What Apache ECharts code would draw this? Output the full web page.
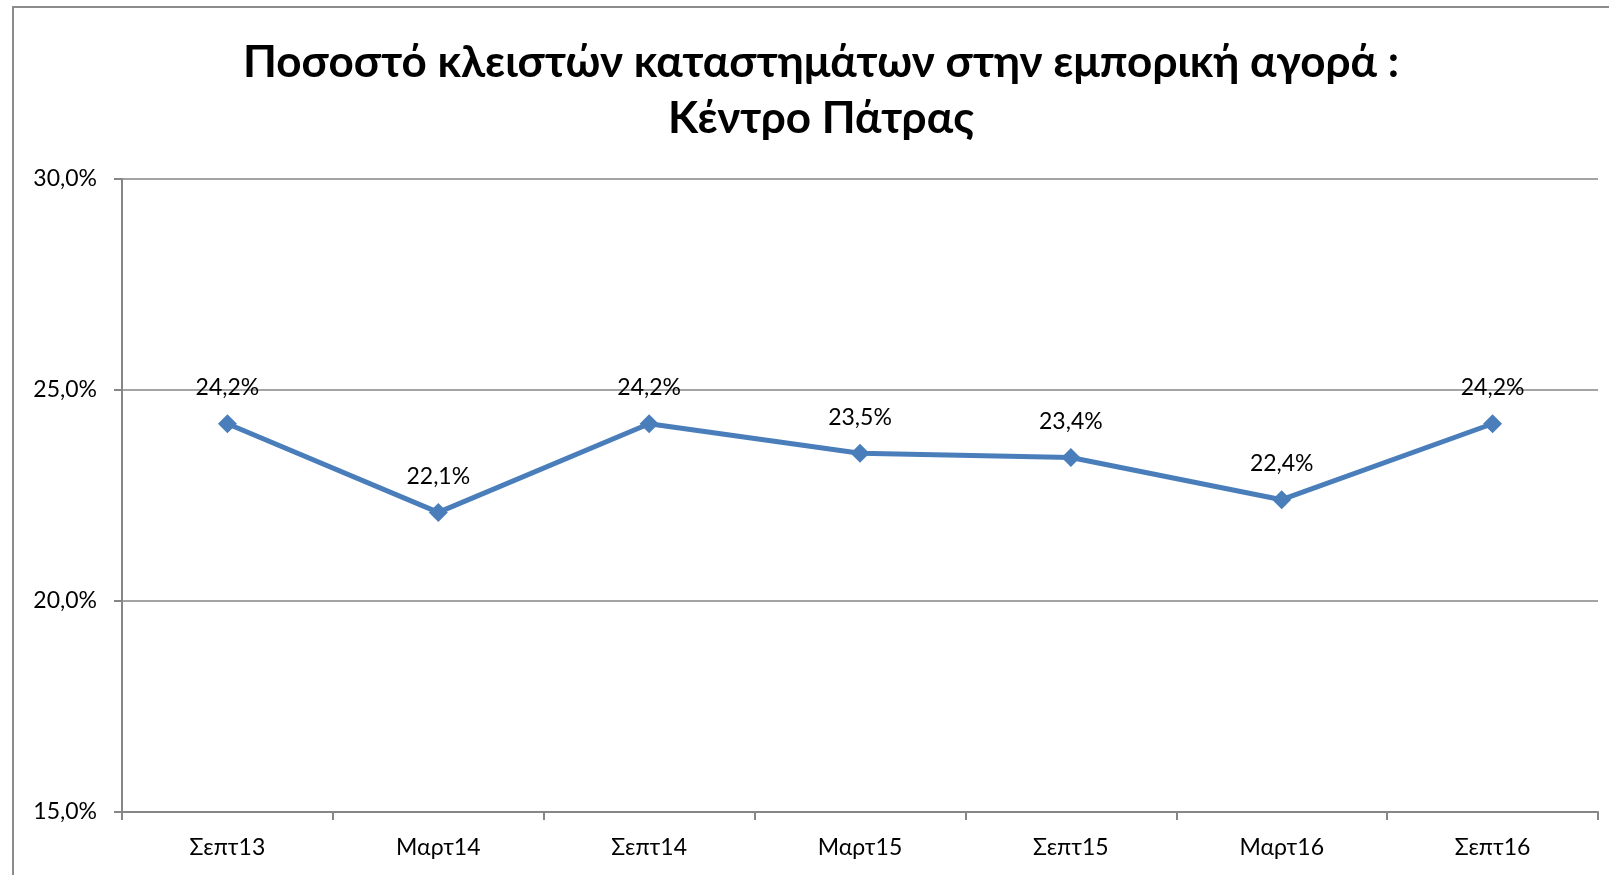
<!DOCTYPE html>
<html>
<head>
<meta charset="utf-8">
<title>Κέντρο Πάτρας</title>
<script src="https://cdn.jsdelivr.net/npm/echarts@6/dist/echarts.min.js"></script>
<style>
  html, body { margin: 0; padding: 0; background: #fff; }
  #chart { width: 1609px; height: 875px; }
</style>
</head>
<body>
<div id="chart"></div>
<script>
// κατηγορίες (εξάμηνα)
const periods = ['Σεπτ13', 'Μαρτ14', 'Σεπτ14', 'Μαρτ15', 'Σεπτ15', 'Μαρτ16', 'Σεπτ16']
// ποσοστό κλειστών καταστημάτων (%)
const closedShare = [24.2, 22.1, 24.2, 23.5, 23.4, 22.4, 24.2]
// άξονας y
const yMin = 15
const yMax = 30
const yStep = 5

const fmt = v => v.toFixed(1).replace('.', ',') + '%'
const font = 'Lato, "Open Sans", sans-serif'

const chart = echarts.init(document.getElementById('chart'))
chart.setOption({
  backgroundColor: '#fff',
  animation: false,
  title: {
    text: 'Ποσοστό κλειστών καταστημάτων στην εμπορική αγορά :\nΚέντρο Πάτρας',
    left: 816,
    textAlign: 'center',
    top: 30,
    textStyle: {
      fontFamily: font,
      fontWeight: 'bold',
      fontSize: 44,
      lineHeight: 56,
      color: '#000'
    }
  },
  graphic: [{
    type: 'rect',
    shape: { x: 13, y: 7, width: 1700, height: 1000 },
    style: { fill: 'none', stroke: '#8c8c8c', lineWidth: 2 },
    silent: true
  }],
  grid: {
    left: 122,
    right: 11,
    top: 179,
    bottom: 63
  },
  xAxis: {
    type: 'category',
    data: periods,
    boundaryGap: true,
    axisLine: { lineStyle: { color: '#868686', width: 2 } },
    axisTick: { show: true, length: 8, lineStyle: { color: '#868686', width: 2 } },
    axisLabel: {
      margin: 24,
      fontFamily: font,
      fontSize: 23,
      color: '#000'
    }
  },
  yAxis: {
    type: 'value',
    min: yMin,
    max: yMax,
    interval: yStep,
    axisLine: { show: true, lineStyle: { color: '#868686', width: 2 } },
    axisTick: { show: true, length: 8, lineStyle: { color: '#868686', width: 2 } },
    splitLine: { lineStyle: { color: '#868686', width: 1.5 } },
    axisLabel: {
      margin: 25,
      fontFamily: font,
      fontSize: 23,
      color: '#000',
      formatter: fmt
    }
  },
  series: [{
    type: 'line',
    data: closedShare,
    symbol: 'diamond',
    symbolSize: 19,
    lineStyle: { color: '#4a7ebb', width: 5 },
    itemStyle: { color: '#4a7ebb' },
    label: {
      show: true,
      position: 'top',
      distance: 15,
      fontFamily: font,
      fontSize: 23,
      color: '#000',
      formatter: p => fmt(p.value)
    }
  }]
})
</script>
</body>
</html>
